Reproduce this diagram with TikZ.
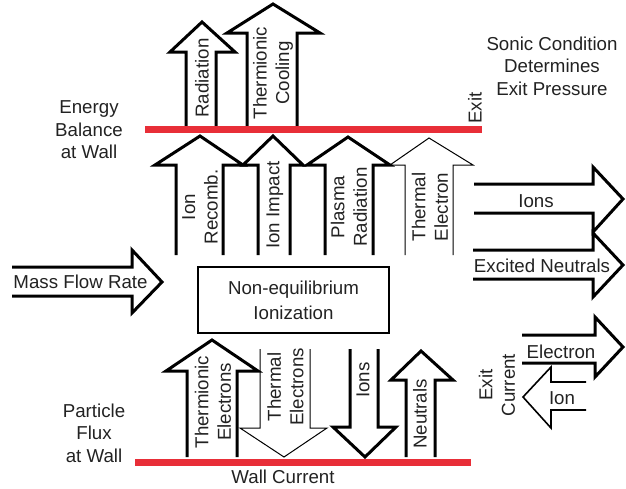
\documentclass[tikz,border=0pt]{standalone}
\usepackage{fontspec}
\setmainfont{Liberation Sans}
\definecolor{wallred}{RGB}{232,46,56}
\definecolor{txt}{RGB}{34,34,34}
\tikzset{
  thickarr/.style={draw=black,line width=3pt,line join=miter,miter limit=10},
  midarr/.style={draw=black,line width=1.6pt,line join=miter,miter limit=10},
  thinarr/.style={draw=black,line width=1pt,line join=miter,miter limit=10},
  wall/.style={draw=wallred,line width=7pt},
  lbl/.style={font=\fontsize{18.7}{22.5}\selectfont,text=txt,inner sep=0pt,align=center},
  rlbl/.style={lbl,rotate=90},
  boxnode/.style={draw=black,line width=2pt,minimum width=191pt,minimum height=66pt,inner sep=0pt,align=center,font=\fontsize{18.7}{25}\selectfont,text=txt}
}
\begin{document}
\begin{tikzpicture}[x=1pt,y=-1pt]
\useasboundingbox (0,0) rectangle (626,488);

% ---------- top arrows (above wall) ----------
\draw[thickarr] (186,126) -- (186,52) -- (170,52) -- (202,22) -- (235,52) -- (216,52) -- (216,126);
\draw[thickarr] (247,126) -- (247,33) -- (227,33) -- (273,4) -- (320,33) -- (297,33) -- (297,126);

% ---------- middle arrows ----------
\draw[thickarr] (176,255) -- (176,165) -- (155,165) -- (200,136) -- (243,165) -- (223,165) -- (223,255);
\draw[thickarr] (258,255) -- (258,165) -- (243,165) -- (273,136) -- (303,165) -- (290,165) -- (290,255);
\draw[thickarr] (325,255) -- (325,165) -- (307,165) -- (348,137) -- (390,165) -- (373,165) -- (373,255);
\draw[thinarr]  (405,255) -- (405,165) -- (390,165) -- (429,138) -- (473,165) -- (453,165) -- (453,255);

% ---------- bottom arrows ----------
\draw[thickarr] (187,457) -- (187,371) -- (166,371) -- (212,340) -- (258,371) -- (237,371) -- (237,457);
\draw[thinarr]  (260,349) -- (260,428) -- (240,428) -- (284,457) -- (327,428) -- (310,428) -- (310,349);
\draw[thickarr] (350,349) -- (350,427) -- (333,427) -- (365,457) -- (396,427) -- (378,427) -- (378,349);
\draw[thickarr] (406,457) -- (406,380) -- (391,380) -- (421,351) -- (453,380) -- (435,380) -- (435,457);

% ---------- horizontal arrows ----------
\draw[thickarr] (12,267) -- (132,267) -- (132,250) -- (162,282) -- (132,313) -- (132,296) -- (12,296);
\draw[thickarr] (474,184) -- (593,184) -- (593,167) -- (623,199) -- (593,232) -- (593,213) -- (474,213);
\draw[thickarr] (473,250) -- (593,250) -- (593,233) -- (623,265) -- (593,297) -- (593,279) -- (473,279);
\draw[thickarr] (522,335) -- (595,335) -- (595,317) -- (623,347) -- (595,377) -- (595,363) -- (522,363);
\draw[midarr]   (586,382) -- (551,382) -- (551,367) -- (523,397) -- (551,428) -- (551,410) -- (586,410);

% ---------- walls ----------
\draw[wall] (145,129.5) -- (482,129.5);
\draw[wall] (135,462) -- (471,462);

% ---------- box ----------
\node[boxnode] (ion) at (293.5,300) {Non-equilibrium\\Ionization};

% ---------- labels ----------
\node[rlbl] (lRad) at (202,78) {Radiation};
\node[rlbl] (lThC) at (273,73) {Thermionic\\Cooling};
\node[rlbl] (lIR) at (200,207) {Ion\\Recomb.};
\node[rlbl] (lII) at (275,205) {Ion Impact};
\node[rlbl] (lPR) at (349,207) {Plasma\\Radiation};
\node[rlbl] (lTE) at (430,207) {Thermal\\Electron};
\node[rlbl] (lThE) at (213,402) {Thermionic\\Electrons};
\node[rlbl] (lTEs) at (285.5,387) {Thermal\\Electrons};
\node[rlbl] (lIons) at (363,380) {Ions};
\node[rlbl] (lNeu) at (420,414) {Neutrals};
\node[rlbl] (lExit) at (475,108) {Exit};
\node[rlbl] (lExC) at (497,385) {Exit\\Current};

\node[lbl] (lMFR) at (80.5,282) {Mass Flow Rate};
\node[lbl] (lIonsR) at (536,201) {Ions};
\node[lbl] (lExN) at (542,266) {Excited Neutrals};
\node[lbl] (lEl) at (561,352) {Electron};
\node[lbl] (lIon) at (562,398) {Ion};
\node[lbl] (lEB) at (89,130) {Energy\\Balance\\at Wall};
\node[lbl] (lPF) at (94,433) {Particle\\Flux\\at Wall};
\node[lbl] (lSC) at (552,66) {Sonic Condition\\Determines\\Exit Pressure};
\node[lbl] (lWC) at (283,477) {Wall Current};
\end{tikzpicture}
\end{document}
